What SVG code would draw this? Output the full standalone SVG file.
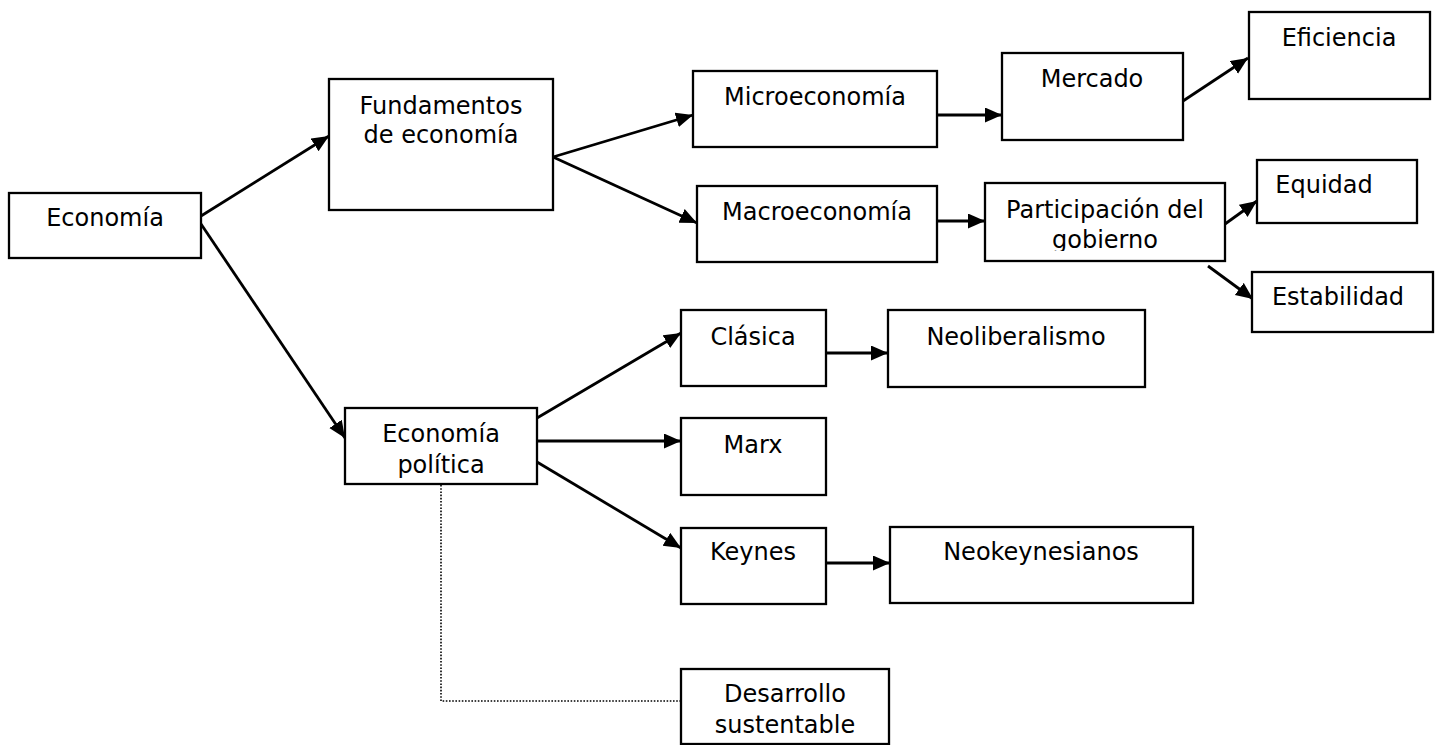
<svg xmlns="http://www.w3.org/2000/svg" width="1439" height="745" viewBox="0 0 1439 745">
<style>
.box{fill:#fff;stroke:#000;stroke-width:2.3}
.t{font-family:"DejaVu Sans","Verdana",sans-serif;font-size:24px;fill:#000;text-anchor:middle}
.c{stroke:#000;stroke-width:2.8;fill:none}
.dot{stroke:#000;stroke-width:1.6;fill:none;stroke-dasharray:1.6 1.6}
</style>
<defs>
<marker id="ah" markerUnits="userSpaceOnUse" markerWidth="19" markerHeight="17" refX="17" refY="7.5" orient="auto">
<path d="M0,0 L17,7.5 L0,15 z" fill="#000"/>
</marker>
<clipPath id="pclip"><rect x="985" y="183" width="240" height="68"/></clipPath>
</defs>
<rect width="1439" height="745" fill="#fff"/>
<g id="connectors">
<line class="c" x1="201" y1="216" x2="329" y2="136" marker-end="url(#ah)"/>
<line class="c" x1="201" y1="224" x2="345" y2="438" marker-end="url(#ah)"/>
<line class="c" x1="553" y1="157" x2="693" y2="115" marker-end="url(#ah)"/>
<line class="c" x1="553" y1="157" x2="697" y2="223" marker-end="url(#ah)"/>
<line class="c" x1="937" y1="115" x2="1002" y2="115" marker-end="url(#ah)"/>
<line class="c" x1="937" y1="221" x2="985" y2="221" marker-end="url(#ah)"/>
<line class="c" x1="1183" y1="101" x2="1248" y2="58" marker-end="url(#ah)"/>
<line class="c" x1="1225" y1="224" x2="1257" y2="201" marker-end="url(#ah)"/>
<line class="c" x1="1208" y1="266" x2="1253" y2="299" marker-end="url(#ah)"/>
<line class="c" x1="537" y1="418" x2="681" y2="333" marker-end="url(#ah)"/>
<line class="c" x1="537" y1="441" x2="681" y2="441" marker-end="url(#ah)"/>
<line class="c" x1="537" y1="462" x2="681" y2="548" marker-end="url(#ah)"/>
<line class="c" x1="826" y1="353" x2="888" y2="353" marker-end="url(#ah)"/>
<line class="c" x1="826" y1="563" x2="890" y2="563" marker-end="url(#ah)"/>
<polyline class="dot" points="441,485 441,701 681,701"/>
</g>
<g id="n-economia"><rect class="box" x="9" y="193" width="192" height="65"/><text class="t" x="105" y="226">Economía</text></g>
<g id="n-fundamentos"><rect class="box" x="329" y="79" width="224" height="131"/><text class="t" x="441" y="114">Fundamentos</text><text class="t" x="441" y="143">de economía</text></g>
<g id="n-micro"><rect class="box" x="693" y="71" width="244" height="76"/><text class="t" x="815" y="105">Microeconomía</text></g>
<g id="n-macro"><rect class="box" x="697" y="186" width="240" height="76"/><text class="t" x="817" y="220">Macroeconomía</text></g>
<g id="n-mercado"><rect class="box" x="1002" y="53" width="181" height="87"/><text class="t" x="1092" y="87">Mercado</text></g>
<g id="n-eficiencia"><rect class="box" x="1249" y="12" width="181" height="87"/><text class="t" x="1339" y="46">Eficiencia</text></g>
<g id="n-participacion"><rect class="box" x="985" y="183" width="240" height="78"/><g clip-path="url(#pclip)"><text class="t" x="1105" y="218">Participación del</text><text class="t" x="1105" y="248">gobierno</text></g></g>
<g id="n-equidad"><rect class="box" x="1257" y="160" width="160" height="63"/><text class="t" x="1324" y="193">Equidad</text></g>
<g id="n-estabilidad"><rect class="box" x="1252" y="272" width="181" height="60"/><text class="t" x="1338" y="305">Estabilidad</text></g>
<g id="n-econpol"><rect class="box" x="345" y="408" width="192" height="76"/><text class="t" x="441" y="442">Economía</text><text class="t" x="441" y="473">política</text></g>
<g id="n-clasica"><rect class="box" x="681" y="310" width="145" height="76"/><text class="t" x="753" y="345">Clásica</text></g>
<g id="n-neoliberalismo"><rect class="box" x="888" y="310" width="257" height="77"/><text class="t" x="1016" y="345">Neoliberalismo</text></g>
<g id="n-marx"><rect class="box" x="681" y="418" width="145" height="77"/><text class="t" x="753" y="453">Marx</text></g>
<g id="n-keynes"><rect class="box" x="681" y="528" width="145" height="76"/><text class="t" x="753" y="560">Keynes</text></g>
<g id="n-neokeynesianos"><rect class="box" x="890" y="527" width="303" height="76"/><text class="t" x="1041" y="560">Neokeynesianos</text></g>
<g id="n-desarrollo"><rect class="box" x="681" y="669" width="208" height="75"/><text class="t" x="785" y="702">Desarrollo</text><text class="t" x="785" y="733">sustentable</text></g>
</svg>
